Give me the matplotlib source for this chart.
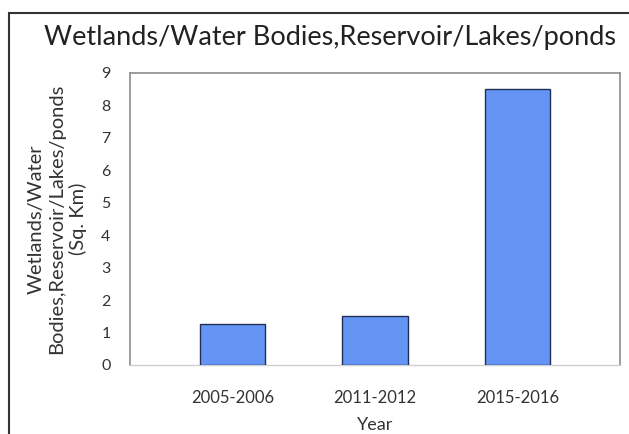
import matplotlib
matplotlib.use("Agg")
import matplotlib.pyplot as plt
from matplotlib.patches import Rectangle
import numpy as np

categories = ["2005-2006", "2011-2012", "2015-2016"]
values = [1.25, 1.5, 8.5]
yticks = list(range(0, 10))

plt.rcParams['font.family'] = ['Lato', 'DejaVu Sans']

fig = plt.figure(figsize=(6.29, 4.34), dpi=100)
ax = fig.add_axes([130/629, 1-365/434, (620-130)/629, (365-73)/434])

x = np.arange(len(categories))
ax.bar(x, values, width=0.46, color="#6495F5", edgecolor="#1F2F55", linewidth=1.0, zorder=3)

ax.set_xlim(-0.72, 2.72)
ax.set_ylim(0, 9)
ax.set_yticks(yticks)
ax.set_xticks(x)
ax.set_xticklabels(categories, fontsize=12, color="#333333")
ax.tick_params(axis='y', labelsize=11.5, colors="#333333", length=0, pad=14)
ax.tick_params(axis='x', length=0, pad=18)

for s in ['left', 'top', 'right']:
    ax.spines[s].set_color("#8C8C8C")
    ax.spines[s].set_linewidth(1.2)
ax.spines['bottom'].set_color("#D0D0D0")
ax.spines['bottom'].set_linewidth(1.0)

ax.set_xlabel("Year", fontsize=13, color="#333333", labelpad=8)
ax.set_ylabel("Wetlands/Water\nBodies,Reservoir/Lakes/ponds\n(Sq. Km)", fontsize=14.5,
              color="#333333", labelpad=10, linespacing=1.25)

fig.text(0.525, 1-38/434, "Wetlands/Water Bodies,Reservoir/Lakes/ponds", fontsize=19.5,
         ha='center', va='center', color="#222222")

fig.patches.append(Rectangle((9/629, -0.1), 1.2, 1-13/434+0.1, transform=fig.transFigure,
                             fill=False, edgecolor="#333333", linewidth=1.5))

fig.savefig("out.png", dpi=100)
